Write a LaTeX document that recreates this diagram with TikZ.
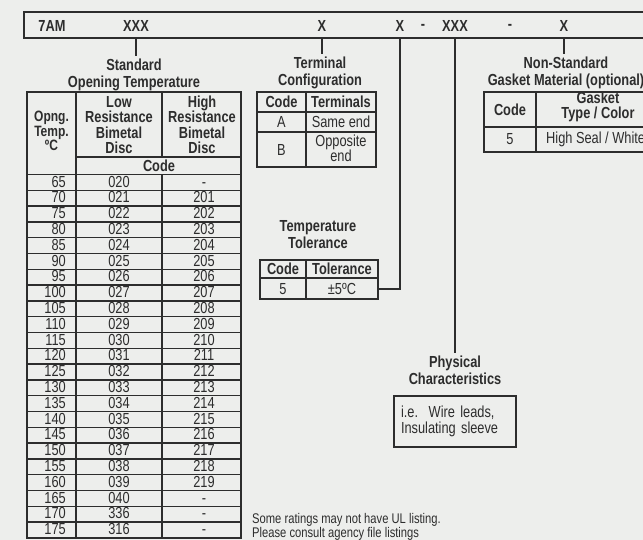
\documentclass[tikz,border=0pt]{standalone}
\usepackage{fontspec}
\setmainfont[FakeStretch=0.8]{Liberation Sans}
\usepackage{xcolor}
\usepackage{tikz}

\definecolor{pagebg}{RGB}{237,238,236}
\definecolor{ink}{RGB}{45,45,45}

\tikzset{
  txt/.style={font=\fontsize{16}{15.5}\selectfont, text=ink, inner sep=0pt},
  hdr/.style={txt, font=\fontsize{16}{17}\selectfont\bfseries, align=center, outer sep=3pt},
  cellhd/.style={txt, font=\fontsize{16}{15.5}\selectfont\bfseries, align=center},
  note/.style={txt, font=\fontsize{14}{10.5}\selectfont, align=left},
  grid/.style={draw=ink, line width=1.3pt},
}

\begin{document}
\begin{tikzpicture}[x=1pt, y=-1pt]
            \fill[pagebg] (0,0) rectangle (643,540);
            \useasboundingbox (0,0) rectangle (643,540);
            \clip (0,0) rectangle (643,540);
            % part number bar
            \draw[grid] (24,12) rectangle (700,38);
            \coordinate (barS) at (0,38);
            \node[hdr] (c7am) at (52,26) {7AM};
            \node[hdr] (cTemp) at (136,26) {XXX};
            \node[hdr] (cTerm) at (322,26) {X};
            \node[hdr] (cTol) at (400,26) {X};
            \node[hdr] (dashA) at (423,27) {-};
            \node[hdr] (cPhys) at (455,26) {XXX};
            \node[hdr] (dashB) at (510,27) {-};
            \node[hdr] (cGask) at (564,26) {X};
            % headings
            \node[hdr] (hTemp) at (134,74.5) {Standard\\Opening Temperature};
            \node[hdr] (hTerm) at (320,73) {Terminal\\Configuration};
            \node[hdr] (hTol) at (318,235) {Temperature\\Tolerance};
            \node[hdr] (hPhys) at (455,370.5) {Physical\\Characteristics};
            \node[hdr] (hGask) at (566,73) {Non-Standard\\Gasket Material (optional)};
            % connectors
            \draw[grid] (cTemp |- barS) -- (cTemp |- hTemp.north);
            \draw[grid] (cTerm |- barS) -- (cTerm |- hTerm.north);
            \draw[grid] (cGask |- barS) -- (cGask |- hGask.north);
            \draw[grid] (cPhys |- barS) -- (cPhys |- hPhys.north);
            \coordinate (tolR) at (378,289);
            \draw[grid] (cTol |- barS) |- (tolR);
            % opening temperature table
            \draw[grid] (27,92) rectangle (241,538);
            \draw[grid] (76,92) -- (76,538);
            \draw[grid] (162,92) -- (162,157);
            \draw[grid] (162,174.5) -- (162,538);
            \draw[grid] (76,157) -- (241,157);
            \foreach \i in {0,...,22}
                \draw[grid] (27,{174.5+\i*15.8}) -- (241,{174.5+\i*15.8});
            \node[cellhd, font=\fontsize{15}{10.5}\selectfont\bfseries] (hOpng) at (51.5,131) {Opng.\\Temp.\\ºC};
            \node[cellhd] (hLow) at (119,125) {Low\\Resistance\\Bimetal\\Disc};
            \node[cellhd] (hHigh) at (202,125) {High\\Resistance\\Bimetal\\Disc};
            \node[cellhd] (hCode) at (159,166) {Code};
            \foreach \t/\lo/\hi [count=\i] in {65/020/-, 70/021/201, 75/022/202, 80/023/203,
                85/024/204, 90/025/205, 95/026/206, 100/027/207, 105/028/208, 110/029/209,
                115/030/210, 120/031/211, 125/032/212, 130/033/213, 135/034/214, 140/035/215,
                145/036/216, 150/037/217, 155/038/218, 160/039/219, 165/040/-, 170/336/-, 175/316/-} {
                \node[txt, anchor=base east] (t\i) at (66,{174.5+(\i-1)*15.8+12.6}) {\t};
                \node[txt, anchor=base] (lo\i) at (119,{174.5+(\i-1)*15.8+12.6}) {\lo};
                \node[txt, anchor=base] (hi\i) at (204,{174.5+(\i-1)*15.8+12.6}) {\hi};
            }
            % terminal table
            \draw[grid] (257,92) rectangle (376,167);
            \draw[grid] (306,92) -- (306,167);
            \draw[grid] (257,112) -- (376,112);
            \draw[grid] (257,132) -- (376,132);
            \node[cellhd] (termCode) at (281.5,102) {Code};
            \node[cellhd] (termHd) at (341,102) {Terminals};
            \node[txt] (termA) at (281.5,122) {A};
            \node[txt] (termSame) at (341,122) {Same end};
            \node[txt] (termB) at (281.5,150) {B};
            \node[txt, align=center] (termOpp) at (341,148.5) {Opposite\\end};
            % tolerance table
            \draw[grid] (260,260) rectangle (378,299);
            \draw[grid] (306,260) -- (306,299);
            \draw[grid] (260,278) -- (378,278);
            \node[cellhd] (tolCode) at (283,269) {Code};
            \node[cellhd] (tolHd) at (342,269) {Tolerance};
            \node[txt] (tol5) at (283,289) {5};
            \node[txt] (tolVal) at (342,289) {±5ºC};
            % physical box
            \node[txt, draw=ink, line width=1.3pt, align=left, inner xsep=7pt,
                text width=108pt, minimum height=51pt] (physBox) at (455,421.5)
                {i.e.~~Wire leads,\\Insulating sleeve};
            % gasket table
            \draw[grid] (484,92) rectangle (660,152);
            \draw[grid] (536,92) -- (536,152);
            \draw[grid] (484,127) -- (660,127);
            \node[cellhd] (gaskCode) at (510,109.5) {Code};
            \node[cellhd] (gaskHd) at (598,107) {Gasket\\Type / Color};
            \node[txt, anchor=west] (gaskVal) at (546,139.5) {High Seal / White};
            \node[txt] (gask5) at (510,139.5) {5};
            % footnote
            \node[note, anchor=north west] (noteTxt) at (252,513.5) {Some ratings may not have UL listing.\\Please consult agency file listings};
        \end{tikzpicture}
\end{document}
